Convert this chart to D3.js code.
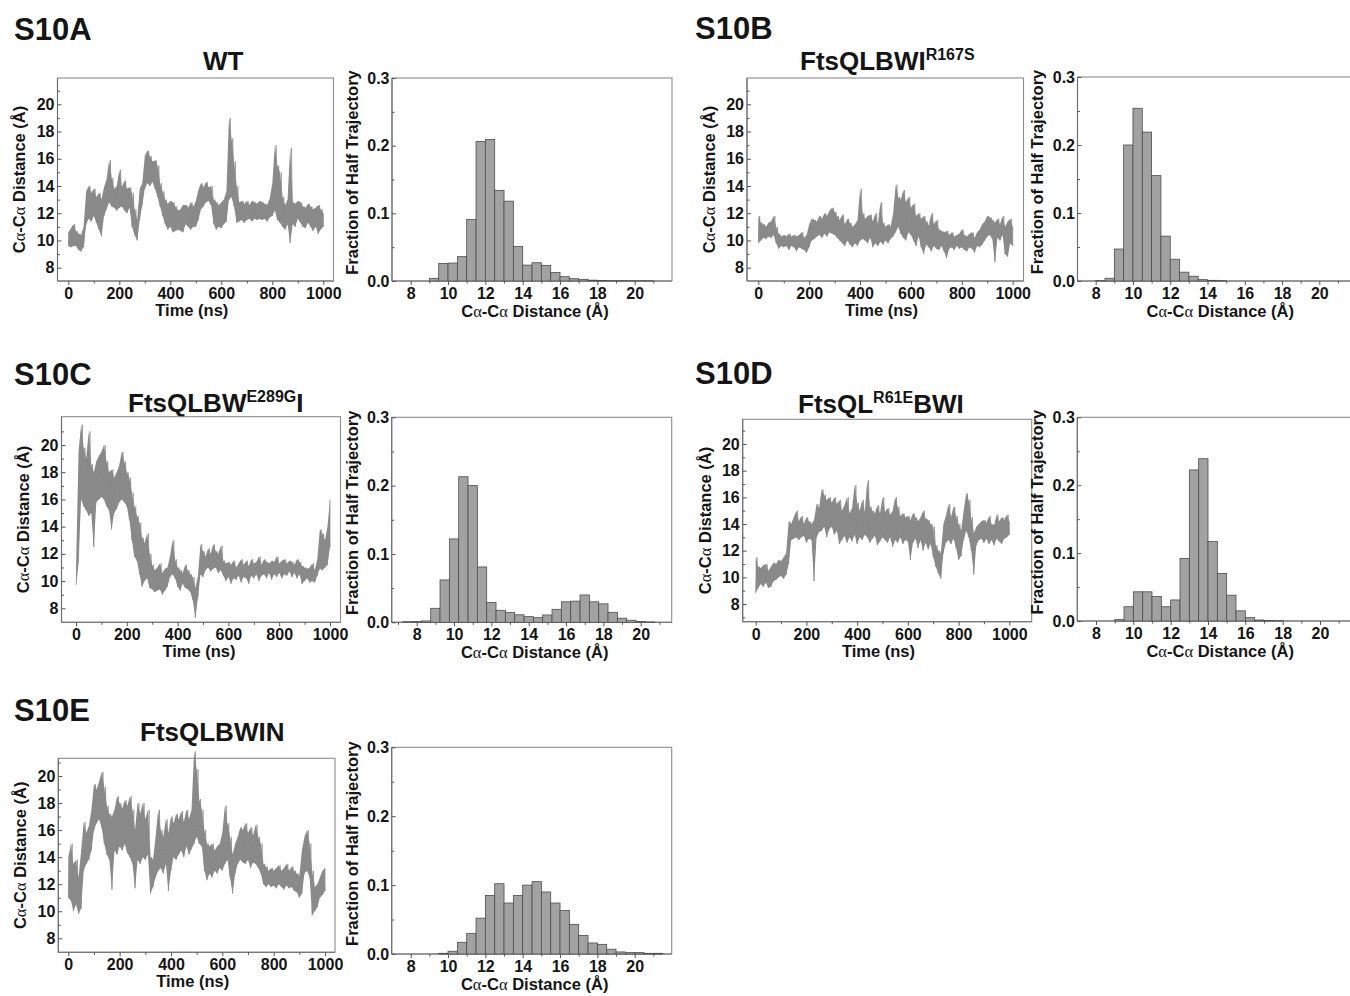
<!DOCTYPE html>
<html>
<head>
<meta charset="utf-8">
<script src="https://cdn.jsdelivr.net/npm/d3@7"></script>
<style>
  html, body { margin: 0; padding: 0; background: #ffffff; }
  svg { display: block; }
</style>
</head>
<body>
<svg id="fig" width="1350" height="996"></svg>
<script>
// ---------------------------------------------------------------
// Cα–Cα distance trajectories (lower / upper envelope every 10 ns)
// ---------------------------------------------------------------
const timeNs = d3.range(0, 1001, 10);

const wtLow = [9.6,9.5,9.6,9.6,9.3,9.2,9.5,11.2,11.6,11.4,11.8,11.3,10.8,10.3,11.8,12.3,12.8,12.5,12.4,12.2,12.4,12.5,12.2,12.0,12.4,11.0,10.4,10.0,11.5,12.6,13.8,14.2,14.0,14.3,13.8,13.2,12.5,11.8,11.2,10.8,11.0,10.6,10.7,10.8,10.7,10.6,11.2,11.0,10.8,11.0,11.0,11.5,12.3,12.5,12.8,12.9,12.6,11.2,10.8,11.0,10.9,11.2,11.4,13.0,13.2,12.5,11.3,11.4,11.5,11.3,11.5,11.6,11.4,11.6,11.5,11.6,11.5,11.6,11.4,11.7,11.8,12.2,11.5,11.3,11.0,10.8,11.2,9.8,11.2,11.0,11.6,11.3,11.0,10.9,11.3,11.0,10.7,11.0,10.5,10.8,11.0];
const wtHigh = [10.6,10.9,11.2,10.7,10.5,10.4,11.0,13.6,14.0,13.5,13.8,13.2,13.5,13.0,13.9,14.5,15.9,14.6,13.8,14.0,15.2,13.9,14.4,13.8,13.9,13.5,12.3,11.5,13.8,14.2,16.2,16.6,16.2,15.8,15.9,15.5,14.2,13.6,13.0,12.7,12.9,12.8,12.5,12.2,12.3,12.6,12.6,12.4,12.8,12.5,12.9,13.7,14.2,13.9,14.3,13.9,14.0,13.0,12.8,12.6,12.8,13.0,13.6,19.0,17.5,15.8,14.0,12.8,12.9,12.7,12.9,12.6,12.9,12.8,12.7,12.9,12.8,12.7,12.6,13.1,14.2,17.0,15.5,15.0,13.2,12.6,13.0,16.8,12.8,12.7,12.9,12.8,12.5,12.4,12.7,12.5,12.3,12.4,12.6,12.3,12.0];

const r167sLow = [9.8,10.0,10.2,10.1,10.3,10.2,10.4,9.8,9.4,9.6,9.5,9.6,9.3,9.6,9.5,9.2,9.5,9.4,9.3,9.1,9.5,10.0,10.1,10.3,10.4,10.2,10.5,10.3,10.6,10.5,10.4,10.2,10.0,9.8,9.6,10.0,9.7,9.5,9.8,9.6,10.0,10.1,10.0,9.8,10.2,9.5,9.8,9.6,9.9,9.7,10.0,9.8,10.1,10.3,10.6,11.0,10.5,10.2,10.0,10.6,10.4,10.0,9.6,10.3,9.5,9.0,9.7,9.5,9.2,9.6,9.4,9.3,9.6,9.2,8.7,9.4,9.5,9.3,9.6,9.4,9.5,9.3,9.2,9.5,9.4,9.1,9.6,9.5,9.7,10.0,10.3,10.4,10.1,8.4,10.2,10.0,10.4,9.0,8.8,9.8,9.6];
const r167sHigh = [11.8,11.3,11.2,11.0,11.3,11.4,11.8,11.0,10.5,10.3,10.4,10.3,10.5,10.3,10.4,10.3,10.4,10.6,10.2,10.4,11.2,11.6,11.5,11.4,11.8,11.6,12.0,11.8,12.2,12.4,12.1,11.8,11.5,11.9,11.2,11.6,11.3,11.0,11.2,11.5,13.8,12.0,11.6,11.8,11.9,11.4,12.0,11.2,12.8,11.3,11.0,11.2,11.0,12.0,14.1,13.2,13.0,13.7,12.8,13.2,12.4,12.7,11.8,12.0,11.6,11.8,11.4,11.1,12.0,11.2,11.5,10.8,10.7,10.6,10.7,10.4,10.6,10.3,10.4,10.5,10.8,10.4,10.3,10.5,10.6,10.2,10.6,10.8,11.2,11.4,11.8,11.7,11.5,11.3,11.6,11.2,11.8,11.0,11.4,11.6,11.0];

const e289gLow = [9.7,11.5,16.0,15.5,15.2,14.8,15.0,12.5,15.8,16.0,16.2,16.0,15.5,15.2,13.8,15.0,15.3,15.8,16.0,15.8,15.5,14.5,13.0,11.8,11.5,10.5,9.6,10.0,10.2,9.5,9.4,9.2,9.3,9.4,9.0,9.3,9.6,10.3,10.5,10.2,9.6,9.3,9.8,9.5,9.4,9.2,8.6,7.3,8.8,10.5,10.3,10.8,11.0,10.7,10.9,11.0,10.6,10.8,10.4,10.0,10.3,9.8,10.2,10.1,10.4,9.9,10.3,10.2,9.8,10.4,10.2,10.5,10.0,10.4,10.5,10.2,10.6,10.1,10.5,10.3,10.6,10.2,10.5,10.4,10.7,10.3,10.6,10.2,10.5,9.8,10.0,10.2,9.9,10.0,9.9,10.4,10.9,10.8,11.0,11.2,12.5];
const e289gHigh = [10.8,19.5,21.5,19.8,19.0,21.0,18.6,18.0,18.8,19.2,19.5,20.0,18.8,18.0,18.2,17.6,18.0,18.5,19.5,18.8,18.0,17.6,16.5,15.5,14.8,14.3,13.2,12.8,13.5,12.0,11.2,10.8,11.0,11.3,10.6,10.9,11.0,11.8,13.0,11.6,11.0,10.8,10.6,11.2,10.8,10.5,10.3,9.5,10.4,12.7,12.2,11.8,12.4,12.0,12.7,12.2,12.0,12.6,11.5,11.3,11.4,11.2,11.5,11.0,11.3,11.6,11.2,11.5,11.1,11.6,11.3,11.4,11.8,11.2,11.6,11.4,11.3,11.5,11.4,11.8,11.3,11.5,11.6,11.3,11.5,11.4,11.2,11.6,11.4,11.1,11.0,10.9,11.0,11.3,10.8,11.6,13.8,13.5,13.0,14.0,16.0];

const r61eLow = [8.8,9.2,9.5,9.3,9.6,9.2,9.3,9.7,9.8,10.0,10.1,9.9,10.2,11.0,12.8,12.9,13.0,12.8,13.0,13.1,12.6,12.9,12.8,9.7,13.0,13.4,13.5,13.8,13.0,13.6,13.8,13.2,13.5,12.5,12.8,13.1,12.6,13.0,12.7,13.2,12.5,13.0,12.8,13.2,13.0,12.6,12.9,13.1,12.4,12.7,13.0,12.8,12.6,13.0,12.3,12.8,12.6,13.0,12.5,12.8,12.7,11.3,12.6,12.9,12.2,12.8,12.0,12.6,12.1,12.5,11.5,10.8,10.3,9.9,11.8,12.6,12.8,12.5,12.9,12.2,11.3,11.6,12.8,13.5,13.0,12.0,10.2,12.4,12.8,12.9,12.6,12.9,12.5,12.8,12.4,12.9,12.7,12.5,12.9,13.0,13.2];
const r61eHigh = [11.5,10.8,10.7,10.9,11.0,10.5,10.8,11.1,11.0,11.3,11.2,11.5,11.8,14.2,14.0,14.5,15.0,14.2,14.6,14.0,14.5,14.2,14.0,14.3,15.5,15.2,16.6,16.2,15.8,16.0,15.6,16.0,15.5,15.8,15.0,15.4,16.0,14.8,15.2,16.9,15.6,15.0,15.8,14.9,17.3,15.3,15.0,14.8,15.4,14.8,16.0,14.9,15.2,14.7,15.0,16.0,15.3,14.6,14.8,14.5,14.6,14.3,14.8,14.5,14.2,14.5,15.0,14.4,14.3,14.0,13.8,12.4,12.0,11.8,14.0,14.6,15.5,14.5,15.3,14.6,14.0,13.5,15.0,16.3,15.8,14.5,13.3,13.8,14.0,14.2,14.3,14.1,14.6,14.0,13.9,14.7,14.2,14.5,14.3,14.7,14.2];

const winLow = [11.0,10.8,10.0,10.5,9.8,10.2,13.0,13.5,13.8,14.5,16.0,16.5,16.8,16.2,15.0,14.2,13.8,11.6,14.5,14.2,14.8,14.5,15.0,14.3,14.0,13.5,11.7,13.8,13.5,14.0,13.8,14.2,11.3,11.8,12.5,13.0,13.2,12.8,13.5,11.5,13.0,14.0,13.8,14.2,14.5,14.0,14.8,14.2,14.6,15.0,15.5,15.0,14.8,13.0,12.3,12.8,12.5,13.0,12.8,13.2,13.0,13.5,13.8,12.5,11.3,12.8,13.5,13.8,13.6,13.5,13.8,13.2,13.6,13.5,13.2,12.8,12.0,11.8,12.0,11.8,11.9,11.7,12.0,11.8,11.6,11.9,11.7,11.8,11.5,11.4,11.0,11.3,12.8,13.0,12.5,9.7,10.0,10.3,11.0,11.2,11.5];
const winHigh = [14.0,15.0,13.5,13.8,12.5,14.5,16.6,15.8,16.3,17.5,19.4,19.0,19.6,20.3,19.2,17.8,17.2,17.0,17.5,18.5,18.0,17.6,18.2,17.8,18.5,17.5,16.0,18.0,17.2,18.0,16.8,17.5,14.0,13.8,15.5,17.5,16.0,15.5,16.8,15.8,17.0,16.5,17.2,16.8,17.4,16.6,17.5,16.8,17.5,21.8,20.5,18.3,17.5,16.0,15.0,14.8,15.0,14.5,14.8,15.0,15.8,17.8,16.5,15.5,14.2,15.0,15.5,16.2,16.0,16.5,15.8,16.2,15.6,16.4,15.5,15.0,13.5,13.3,13.0,13.2,13.0,13.2,13.4,13.0,13.2,13.5,13.0,13.3,13.0,12.8,12.6,14.5,15.5,16.0,15.0,13.0,11.8,12.0,12.5,13.0,13.2];

// ---------------------------------------------------------------
// Distance histograms (fraction of half trajectory, 0.5 Å bins)
// ---------------------------------------------------------------
const binWidth = 0.5;
const wtBinStart = 9.0;
const wtFrac = [0.004,0.026,0.0265,0.036,0.091,0.206,0.209,0.134,0.118,0.051,0.0235,0.027,0.023,0.0127,0.0064,0.0034,0.0025,0.0012,0.0008,0.0005,0.0005,0.0004,0.0003,0.0003];
const r167sBinStart = 8.0;
const r167sFrac = [0.0005,0.004,0.047,0.200,0.254,0.219,0.155,0.066,0.032,0.013,0.007,0.002,0.001,0.0005];
const e289gBinStart = 7.25;
const e289gFrac = [0.0008,0.001,0.002,0.0205,0.062,0.122,0.213,0.200,0.081,0.029,0.0176,0.0146,0.011,0.0083,0.0068,0.0107,0.019,0.030,0.031,0.040,0.030,0.027,0.0146,0.006,0.003,0.001,0.0005];
const r61eBinStart = 9.0;
const r61eFrac = [0.002,0.021,0.043,0.043,0.036,0.021,0.031,0.092,0.2225,0.239,0.117,0.070,0.038,0.015,0.005,0.0015,0.0008,0.0005];
const winBinStart = 9.5;
const winFrac = [0.001,0.004,0.017,0.030,0.052,0.085,0.102,0.074,0.085,0.100,0.105,0.090,0.074,0.063,0.043,0.027,0.016,0.014,0.007,0.003,0.002,0.002,0.001,0.001];

// axis tick values
const distTicks = [8, 10, 12, 14, 16, 18, 20];
const distMinor = [7, 9, 11, 13, 15, 17, 19, 21];
const timeTicks = [0, 200, 400, 600, 800, 1000];
const timeMinor = [100, 300, 500, 700, 900];
const fracTicks = [0, 0.1, 0.2, 0.3];
const fracMinor = [0.05, 0.15, 0.25];
const histTicks = [8, 10, 12, 14, 16, 18, 20];
const histMinor = [7, 9, 11, 13, 15, 17, 19, 21];

// ---------------------------------------------------------------
// panel layout (pixel boxes and axis anchors)
// ---------------------------------------------------------------
const panels = [
  { letter: "S10A", title: [["WT", 0]],
    low: wtLow, high: wtHigh, binStart: wtBinStart, frac: wtFrac,
    letterPos: [14, 40], titlePos: [203, 70],
    ts:   { box: [57.5, 78, 333.5, 281], xAnchor: [68.3, 323.3], yAnchor: [267.7, 104.3] },
    hist: { box: [392, 78, 672, 281], xAnchor: [410.7, 634.7] } },
  { letter: "S10B", title: [["FtsQLBWI", 0], ["R167S", 1]],
    low: r167sLow, high: r167sHigh, binStart: r167sBinStart, frac: r167sFrac,
    letterPos: [695, 39], titlePos: [800, 70],
    ts:   { box: [747, 78, 1023.5, 281], xAnchor: [758.3, 1012.7], yAnchor: [267.7, 104.3] },
    hist: { box: [1077.5, 77, 1358, 281], xAnchor: [1095.7, 1319.3] } },
  { letter: "S10C", title: [["FtsQLBW", 0], ["E289G", 1], ["I", 0]],
    low: e289gLow, high: e289gHigh, binStart: e289gBinStart, frac: e289gFrac,
    letterPos: [14, 385], titlePos: [128, 412],
    ts:   { box: [61.5, 416.7, 340.5, 622.3], xAnchor: [76, 330], yAnchor: [608.3, 445] },
    hist: { box: [391.7, 417.3, 671.7, 622.3], xAnchor: [416.7, 640.7] } },
  { letter: "S10D", title: [["FtsQL", 0], ["R61E", 1], ["BWI", 0]],
    low: r61eLow, high: r61eHigh, binStart: r61eBinStart, frac: r61eFrac,
    letterPos: [695, 384], titlePos: [798, 413],
    ts:   { box: [742.7, 419.3, 1031.7, 621.7], xAnchor: [755.7, 1009.3], yAnchor: [604, 444] },
    hist: { box: [1077.3, 417.3, 1358, 621], xAnchor: [1096, 1320] } },
  { letter: "S10E", title: [["FtsQLBWIN", 0]],
    low: winLow, high: winHigh, binStart: winBinStart, frac: winFrac,
    letterPos: [14, 721], titlePos: [140, 741],
    ts:   { box: [58.3, 758.3, 335, 952.3], xAnchor: [68.3, 325], yAnchor: [938.3, 776] },
    hist: { box: [391.7, 747.3, 671.7, 954], xAnchor: [410.7, 634.7] } }
];

// ---------------------------------------------------------------
const FONT = "'Liberation Sans', Arial, Helvetica, sans-serif";
const INK = "#151515";
const FRAME = "#8c8c8c";
const TICK = "#555555";
const TRACE = "#8a8a8a";
const TICK_FS = 16;
const LABEL_FS = 16.5;

const svg = d3.select("#fig")
  .attr("font-family", FONT)
  .attr("font-weight", 700)
  .attr("fill", INK);

svg.append("rect").attr("width", 1350).attr("height", 996).attr("fill", "#ffffff");

function distanceLabel(text) {
  const greek = "'Liberation Serif', 'DejaVu Serif', serif";
  text.append("tspan").text("C");
  text.append("tspan").attr("font-family", greek).attr("font-weight", 400).text("α");
  text.append("tspan").text("-C");
  text.append("tspan").attr("font-family", greek).attr("font-weight", 400).text("α");
  text.append("tspan").text(" Distance (Å)");
}

function styleAxis(g) {
  g.select(".domain").remove();
  g.attr("font-family", FONT).attr("font-size", TICK_FS).attr("font-weight", 700);
  g.selectAll(".tick line").attr("stroke", TICK).attr("stroke-width", 1);
  g.selectAll(".tick text").attr("fill", INK);
}

function frame(g, box) {
  const [x0, y0, x1, y1] = box;
  g.append("rect")
    .attr("x", x0).attr("y", y0)
    .attr("width", x1 - x0).attr("height", y1 - y0)
    .attr("fill", "none").attr("stroke", FRAME).attr("stroke-width", 1.1);
  g.append("line").attr("x1", x0).attr("x2", x0).attr("y1", y0).attr("y2", y1)
    .attr("stroke", "#6e6e6e").attr("stroke-width", 1.1);
  g.append("line").attr("x1", x0).attr("x2", x1).attr("y1", y1).attr("y2", y1)
    .attr("stroke", "#6e6e6e").attr("stroke-width", 1.1);
}

function drawTrajectory(g, L, low, high) {
  const [x0, y0, x1, y1] = L.box;
  const x = d3.scaleLinear().domain([0, 1000]).range(L.xAnchor);
  const y = d3.scaleLinear().domain([8, 20]).range(L.yAnchor);

  frame(g, L.box);

  // envelope of the fluctuating distance
  const band = d3.area()
    .x((d, i) => x(timeNs[i]))
    .y0((d, i) => y(low[i]))
    .y1((d, i) => y(high[i]));
  g.append("path").datum(low).attr("d", band)
    .attr("fill", TRACE).attr("stroke", "none");

  // saw-tooth trace between the envelope values
  const pts = [];
  timeNs.forEach((t, i) => {
    pts.push([x(t), y(low[i])]);
    if (i < timeNs.length - 1) pts.push([(x(t) + x(timeNs[i + 1])) / 2, y(high[i])]);
    else pts.push([x(t), y(high[i])]);
  });
  g.append("path").attr("d", d3.line()(pts))
    .attr("fill", "none").attr("stroke", TRACE).attr("stroke-width", 0.7)
    .attr("stroke-linejoin", "miter");

  const inBoxY = v => y(v) > y0 + 2 && y(v) < y1 - 2;

  g.append("g").attr("transform", `translate(${x0},0)`)
    .call(d3.axisLeft(y).tickValues(distMinor.filter(inBoxY)).tickSize(-2.5).tickFormat(""))
    .call(styleAxis);
  g.append("g").attr("transform", `translate(${x0},0)`)
    .call(d3.axisLeft(y).tickValues(distTicks).tickSize(-4).tickPadding(3).tickFormat(d3.format("d")))
    .call(styleAxis);

  g.append("g").attr("transform", `translate(0,${y1})`)
    .call(d3.axisBottom(x).tickValues(timeMinor).tickSize(2.5).tickFormat(""))
    .call(styleAxis);
  g.append("g").attr("transform", `translate(0,${y1})`)
    .call(d3.axisBottom(x).tickValues(timeTicks).tickSize(4).tickPadding(2.5).tickFormat(d3.format("d")))
    .call(styleAxis);

  g.append("text")
    .attr("transform", `translate(${x0 - 38},${(y0 + y1) / 2}) rotate(-90)`)
    .attr("text-anchor", "middle").attr("dy", "0.36em")
    .attr("font-size", LABEL_FS)
    .call(distanceLabel);

  g.append("text")
    .attr("x", x(500) - 4).attr("y", y1 + 35)
    .attr("text-anchor", "middle").attr("font-size", LABEL_FS)
    .text("Time (ns)");
}

function drawHistogram(g, L, binStart, frac) {
  const [x0, y0, x1, y1] = L.box;
  const x = d3.scaleLinear().domain([8, 20]).range(L.xAnchor);
  const y = d3.scaleLinear().domain([0, 0.3]).range([y1, y0]);

  frame(g, L.box);

  g.append("g").selectAll("rect")
    .data(frac)
    .join("rect")
    .attr("x", (d, i) => x(binStart + i * binWidth))
    .attr("width", (d, i) => x(binStart + (i + 1) * binWidth) - x(binStart + i * binWidth))
    .attr("y", d => y(d))
    .attr("height", d => y(0) - y(d))
    .attr("fill", "#a2a2a2")
    .attr("stroke", "#4d4d4d")
    .attr("stroke-width", 0.8);

  const inBoxX = v => x(v) > x0 + 2 && x(v) < Math.min(x1, 1350) - 2;

  g.append("g").attr("transform", `translate(${x0},0)`)
    .call(d3.axisLeft(y).tickValues(fracMinor).tickSize(-2.5).tickFormat(""))
    .call(styleAxis);
  g.append("g").attr("transform", `translate(${x0},0)`)
    .call(d3.axisLeft(y).tickValues(fracTicks).tickSize(-4).tickPadding(2.5).tickFormat(d3.format(".1f")))
    .call(styleAxis);

  g.append("g").attr("transform", `translate(0,${y1})`)
    .call(d3.axisBottom(x).tickValues(histMinor.filter(inBoxX)).tickSize(2.5).tickFormat(""))
    .call(styleAxis);
  g.append("g").attr("transform", `translate(0,${y1})`)
    .call(d3.axisBottom(x).tickValues(histTicks).tickSize(4).tickPadding(2.5).tickFormat(d3.format("d")))
    .call(styleAxis);

  g.append("text")
    .attr("transform", `translate(${x0 - 40},${(y0 + y1) / 2 - 7}) rotate(-90)`)
    .attr("text-anchor", "middle").attr("dy", "0.36em")
    .attr("font-size", LABEL_FS)
    .text("Fraction of Half Trajectory");

  g.append("text")
    .attr("x", (x0 + Math.min(x1, 1357)) / 2 + 3).attr("y", y1 + 36)
    .attr("text-anchor", "middle").attr("font-size", LABEL_FS)
    .call(distanceLabel);
}

panels.forEach(p => {
  const g = svg.append("g").attr("class", "panel");

  g.append("text")
    .attr("x", p.letterPos[0]).attr("y", p.letterPos[1])
    .attr("font-size", 31)
    .text(p.letter);

  const title = g.append("text")
    .attr("x", p.titlePos[0]).attr("y", p.titlePos[1])
    .attr("font-size", 26);
  let raised = false;
  p.title.forEach(([s, sup]) => {
    const ts = title.append("tspan").text(s);
    if (sup && !raised) { ts.attr("font-size", 16).attr("dy", -10); raised = true; }
    else if (!sup && raised) { ts.attr("dy", 10); raised = false; }
  });

  drawTrajectory(g, p.ts, p.low, p.high);
  drawHistogram(g, p.hist, p.binStart, p.frac);
});
</script>
</body>
</html>
